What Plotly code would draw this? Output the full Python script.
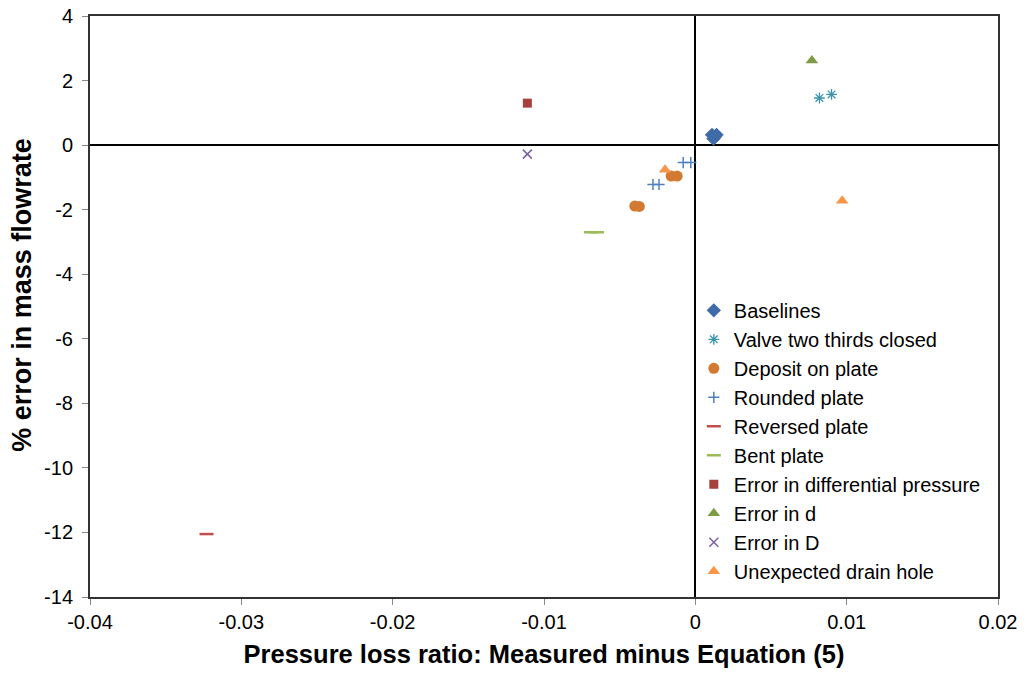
import plotly.graph_objects as go

# Pressure loss ratio deviation (x) and % error in mass flowrate (y) per fault case
baselines_x = [0.0011, 0.0014, 0.0012, 0.0013]
baselines_y = [0.32, 0.32, 0.20, 0.26]

valve_x = [0.0082, 0.0090]
valve_y = [1.46, 1.57]

deposit_x = [-0.0016, -0.0012, -0.0040, -0.0037]
deposit_y = [-0.96, -0.96, -1.89, -1.90]

rounded_x = [-0.0008, -0.0003, -0.0028, -0.0024]
rounded_y = [-0.54, -0.54, -1.22, -1.22]

reversed_x = [-0.0323]
reversed_y = [-12.05]

bent_x = [-0.0069, -0.0065]
bent_y = [-2.70, -2.70]

diffp_x = [-0.0111]
diffp_y = [1.30]

err_d_x = [0.0077]
err_d_y = [2.62]

err_D_x = [-0.0111]
err_D_y = [-0.28]

drain_x = [0.0097, -0.0020]
drain_y = [-1.72, -0.76]

x_ticks = [-0.04, -0.03, -0.02, -0.01, 0, 0.01, 0.02]
x_tick_text = ["-0.04", "-0.03", "-0.02", "-0.01", "0", "0.01", "0.02"]
y_ticks = [-14, -12, -10, -8, -6, -4, -2, 0, 2, 4]
y_tick_text = ["-14", "-12", "-10", "-8", "-6", "-4", "-2", "0", "2", "4"]

series = [
    ("Baselines", baselines_x, baselines_y, "diamond", 11, "#3F6CA9", 0),
    ("Valve two thirds closed", valve_x, valve_y, "asterisk-open", 9, "#3B93AE", 1.3),
    ("Deposit on plate", deposit_x, deposit_y, "circle", 11, "#D27A32", 0),
    ("Rounded plate", rounded_x, rounded_y, "cross-thin-open", 8, "#4F81BD", 1.5),
    ("Reversed plate", reversed_x, reversed_y, "line-ew-open", 10, "#C0504D", 2.5),
    ("Bent plate", bent_x, bent_y, "line-ew-open", 10, "#9BBB59", 2.5),
    ("Error in differential pressure", diffp_x, diffp_y, "square", 9, "#A5403E", 0),
    ("Error in d", err_d_x, err_d_y, "triangle-up", 11, "#7E9C45", 0),
    ("Error in D", err_D_x, err_D_y, "x-thin-open", 9, "#7A5F9E", 1.5),
    ("Unexpected drain hole", drain_x, drain_y, "triangle-up", 11, "#F79646", 0),
]

fig = go.Figure()
for name, xs, ys, sym, size, color, lw in series:
    fig.add_trace(go.Scatter(
        x=xs, y=ys, mode="markers", name=name,
        marker=dict(symbol=sym, size=size, color=color,
                    line=dict(color=color, width=lw)),
    ))

fig.update_layout(
    width=1026, height=673,
    margin=dict(l=90, r=28, t=16, b=76, autoexpand=False),
    paper_bgcolor="white", plot_bgcolor="white",
    font=dict(family="Liberation Sans, Arial, sans-serif", color="black"),
    showlegend=True,
    legend=dict(
        x=0.665, y=0.527, xanchor="left", yanchor="top",
        bgcolor="rgba(255,255,255,0)", borderwidth=0,
        font=dict(size=20, color="black"),
        itemwidth=30, tracegroupgap=0,
    ),
    annotations=[dict(
        text="<b>% error in mass flowrate</b>", textangle=-90,
        xref="paper", yref="paper", x=-0.075, y=0.52,
        xanchor="center", yanchor="middle", showarrow=False,
        font=dict(size=27),
    )],
)

fig.update_xaxes(
    range=[-0.04, 0.02], tickvals=x_ticks, ticktext=x_tick_text,
    showgrid=False, zeroline=True, zerolinecolor="black", zerolinewidth=2,
    showline=True, linecolor="#333333", linewidth=2, mirror=True,
    ticks="outside", ticklen=6, tickcolor="#888888",
    tickfont=dict(size=20),
    title=dict(text="<b>Pressure loss ratio: Measured minus Equation (5)</b>",
               font=dict(size=25.5), standoff=13),
)
fig.update_yaxes(
    range=[-14, 4], tickvals=y_ticks, ticktext=y_tick_text,
    showgrid=False, zeroline=True, zerolinecolor="black", zerolinewidth=2,
    showline=True, linecolor="#333333", linewidth=2, mirror=True,
    ticks="outside", ticklen=6, tickcolor="#888888",
    tickfont=dict(size=20), ticklabelstandoff=5,
)

fig.write_html("out.html")
